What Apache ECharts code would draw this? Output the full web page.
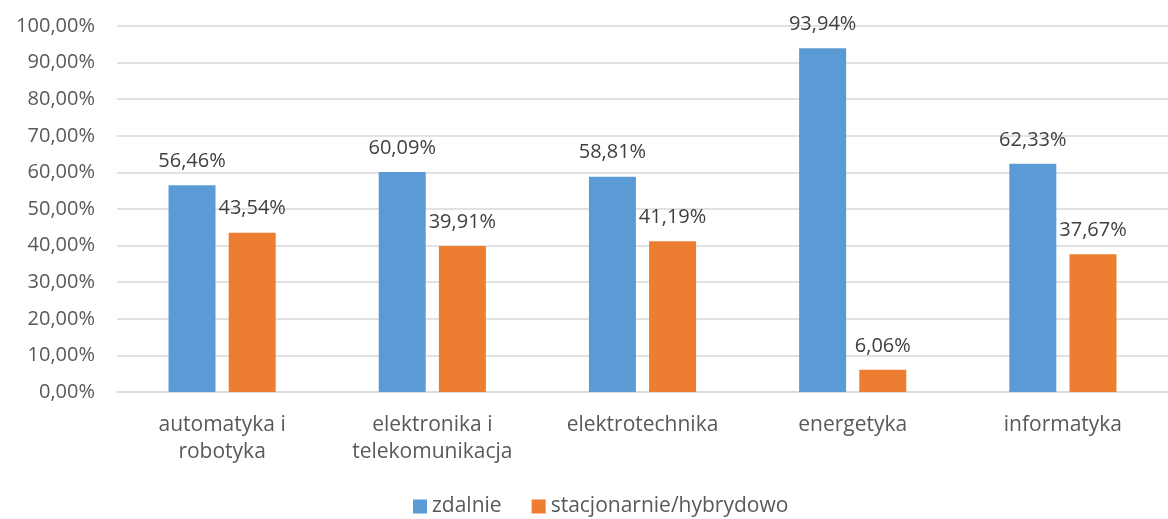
<!DOCTYPE html>
<html>
<head>
<meta charset="utf-8">
<script src="https://cdn.jsdelivr.net/npm/echarts@6/dist/echarts.min.js"></script>
<style>
html,body{margin:0;padding:0;background:#fff;}
#chart{width:1168px;height:519px;}
</style>
</head>
<body>
<div id="chart"></div>
<script>
// kierunki studiów
var categories = ['automatyka i\nrobotyka', 'elektronika i\ntelekomunikacja', 'elektrotechnika', 'energetyka', 'informatyka']
var zdalnie = [56.46, 60.09, 58.81, 93.94, 62.33]
var stacjonarnie = [43.54, 39.91, 41.19, 6.06, 37.67]
var seriesNames = ['zdalnie', 'stacjonarnie/hybrydowo']

function pct(v){
    return v.toFixed(2).replace('.', ',') + '%'
}

var chart = echarts.init(document.getElementById('chart'))
var font = '"Open Sans", sans-serif'

var options = {
    animation:false,
    textStyle:{ fontFamily:font },
    grid:{
        left:117,
        right:0,
        top:26,
        bottom:127
    },
    legend:{
        bottom:-3,
        left:408,
        itemWidth:14,
        itemHeight:14,
        itemGap:30,
        icon:'rect',
        textStyle:{ fontSize:21, color:'#595959', fontFamily:font },
        data:seriesNames
    },
    xAxis:{
        type:'category',
        data:categories,
        axisLine:{ lineStyle:{ color:'#d9d9d9', width:1.5 } },
        axisTick:{ show:false },
        axisLabel:{ fontSize:21, color:'#595959', lineHeight:27, margin:20, interval:0 }
    },
    yAxis:{
        type:'value',
        min:0,
        max:100,
        interval:10,
        axisLine:{ show:false },
        axisTick:{ show:false },
        splitLine:{ lineStyle:{ color:'#d9d9d9', width:1.5 } },
        axisLabel:{
            fontSize:20,
            color:'#595959',
            margin:22,
            formatter:function(v){ return pct(v) }
        }
    },
    series:[{
        name:seriesNames[0],
        type:'bar',
        data:zdalnie,
        barWidth:47,
        barGap:'28%',
        itemStyle:{ color:'#5b9bd5' },
        label:{
            show:true,
            position:'top',
            distance:14,
            fontSize:20,
            color:'#404040',
            formatter:function(p){ return pct(p.value) }
        }
    },{
        name:seriesNames[1],
        type:'bar',
        data:stacjonarnie,
        barWidth:47,
        barGap:'28%',
        itemStyle:{ color:'#ed7d31' },
        label:{
            show:true,
            position:'top',
            distance:14,
            fontSize:20,
            color:'#404040',
            formatter:function(p){ return pct(p.value) }
        }
    }]
}

chart.setOption(options)
</script>
</body>
</html>
